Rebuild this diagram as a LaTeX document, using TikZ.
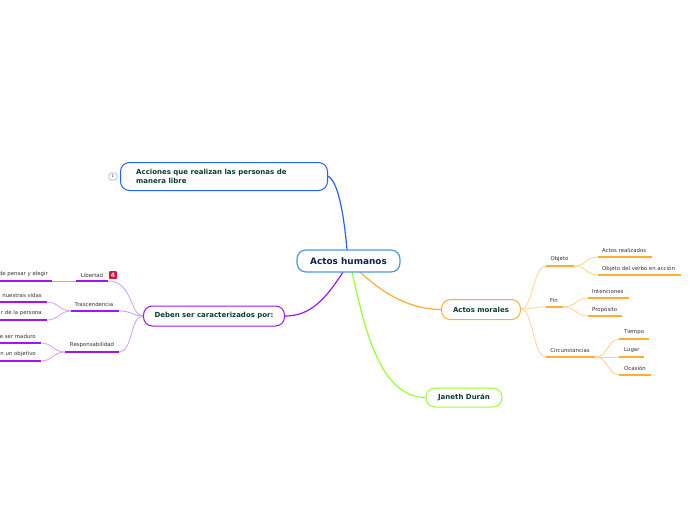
\documentclass[tikz,border=0pt]{standalone}
\usepackage{fontspec}
\setmainfont{DejaVu Sans}
\definecolor{cblue}{HTML}{2463F5}
\definecolor{cpurple}{HTML}{A214F2}
\definecolor{lpurple}{HTML}{D39AF5}
\definecolor{corange}{HTML}{FFAD33}
\definecolor{lorange}{HTML}{FFD08F}
\definecolor{cgreen}{HTML}{99FF33}
\definecolor{rootb}{HTML}{4A9BDC}
\definecolor{dtxt}{HTML}{0B3D33}
\definecolor{rtxt}{HTML}{0F2350}
\definecolor{stxt}{HTML}{333333}
\definecolor{iconred}{HTML}{C8203C}
\tikzset{
 x=1pt,y=-1pt,
 topic/.style={draw,fill=white,rounded corners=9pt,line width=1pt,inner sep=0pt,text=dtxt,font=\fontsize{7}{8.5}\selectfont\bfseries},
 lab/.style={inner sep=0pt,yshift=-0.5pt,text=stxt,font=\fontsize{5.4}{6}\selectfont},
 pline/.style={cpurple,line width=1.2pt},
 oline/.style={corange,line width=1.2pt},
 plink/.style={lpurple,line width=.8pt},
 olink/.style={lorange,line width=.8pt},
}
\begin{document}
\begin{tikzpicture}
\useasboundingbox (0,0) rectangle (696,520);
\coordinate (rt) at (347,250);
\coordinate (rl) at (343,272);
\coordinate (rb) at (352,272);
\coordinate (ro) at (360,272);
\node[topic,draw=cblue,minimum width=207pt,minimum height=28pt] (acc) at (224,176.5) {};
\node[inner sep=0pt,anchor=west,align=left,text=dtxt,font=\fontsize{7}{8.5}\selectfont\bfseries] (acct) at (136,176.5) {Acciones que realizan las personas de\\manera libre};
\node[topic,draw=cpurple,minimum width=141pt,minimum height=20pt] (deb) at (214,316) {Deben ser caracterizados por:};
\node[topic,draw=corange,minimum width=79pt,minimum height=20pt] (mor) at (481,309.5) {Actos morales};
\node[topic,draw=cgreen,minimum width=76pt,minimum height=19pt] (jan) at (464,397.5) {Janeth Durán};
\draw[cblue,line width=1.2pt] (rt) .. controls (344,215) and (338,180) .. (327.5,176);
\draw[cpurple,line width=1.2pt] (rl) .. controls (325,300) and (310,316) .. (deb.east);
\draw[corange,line width=1.2pt] (ro) .. controls (385,295) and (410,309) .. (mor.west);
\draw[cgreen,line width=1.2pt] (rb) .. controls (365,330) and (380,397) .. (jan.west);
\node[draw=rootb,fill=white,rounded corners=9pt,line width=1.2pt,minimum width=103pt,minimum height=22pt,inner sep=0pt,text=rtxt,font=\fontsize{8.9}{10}\selectfont\bfseries] (root) at (348.5,261) {Actos humanos};
\node[draw=cblue!50,fill=white,rounded corners=1.5pt,line width=.6pt,minimum width=8pt,minimum height=7pt,inner sep=0pt,text=stxt,font=\fontsize{4}{4}\selectfont] (cnt) at (113,176.5) {1};
\node[lab,anchor=east] (l1) at (48,274) {de pensar y elegir};
\node[lab] (lib) at (92,275) {Libertad};
\node[lab] (tra) at (94,304) {Trascendencia};
\node[lab] (res) at (92,345) {Responsabilidad};
\node[lab,anchor=east] (l2) at (42,295) {nuestras vidas};
\node[lab,anchor=east] (l3) at (42,313) {r de la persona};
\node[lab,anchor=east] (l4) at (36,336) {e ser maduro};
\node[lab,anchor=east] (l5) at (36,354) {n un objetivo};
\coordinate (dl) at (143,316);
\coordinate (e1) at (108,281);
\coordinate (e2) at (119,311);
\coordinate (e3) at (119,352);
\draw[plink] (dl) .. controls (130,316) and (133,281) .. (e1);
\draw[plink] (dl) .. controls (133,316) and (132,311) .. (e2);
\draw[plink] (dl) .. controls (130,316) and (133,352) .. (e3);
\draw[pline] (76,281) -- (e1);
\draw[pline] (71,311) -- (e2);
\draw[pline] (65,352) -- (e3);
\draw[plink] (76,281) -- (52,281);
\draw[pline] (0,281) -- (52,281);
\draw[plink] (71,311) .. controls (60,311) and (58,302) .. (47,302);
\draw[plink] (71,311) .. controls (60,311) and (58,320) .. (47,320);
\draw[pline] (0,302) -- (47,302);
\draw[pline] (0,320) -- (47,320);
\draw[plink] (65,352) .. controls (54,352) and (52,343) .. (41,343);
\draw[plink] (65,352) .. controls (54,352) and (52,361) .. (41,361);
\draw[pline] (0,343) -- (41,343);
\draw[pline] (0,361) -- (41,361);
\node[fill=iconred,rounded corners=1pt,minimum size=8pt,inner sep=0pt,text=white,font=\fontsize{6}{6}\selectfont\bfseries] (ico) at (113,275) {4};
\node[lab] (obj) at (559.5,259) {Objeto};
\node[lab] (fin) at (554,300) {Fin};
\node[lab] (cir) at (570,350) {Circunstancias};
\node[lab,anchor=west] (o1) at (602,250) {Actos realizados};
\node[lab,anchor=west] (o2) at (602,268) {Objeto del verbo en acción};
\node[lab,anchor=west] (f1) at (592,291) {Intenciones};
\node[lab,anchor=west] (f2) at (592,309) {Propósito};
\node[lab,anchor=west] (c1) at (624,332) {Tiempo};
\node[lab,anchor=west] (c2) at (624,350) {Lugar};
\node[lab,anchor=west] (c3) at (624,368) {Ocasión};
\coordinate (mr) at (521,309);
\draw[olink] (mr) .. controls (533,309) and (533,266) .. (546,266);
\draw[olink] (mr) .. controls (533,309) and (533,307) .. (546,307);
\draw[olink] (mr) .. controls (533,309) and (533,357) .. (546,357);
\draw[oline] (546,266) -- (574,266);
\draw[oline] (546,307) -- (563,307);
\draw[oline] (546,357) -- (595,357);
\draw[olink] (574,266) .. controls (586,266) and (586,257) .. (598,257);
\draw[olink] (574,266) .. controls (586,266) and (586,275) .. (598,275);
\draw[oline] (598,257) -- (652,257);
\draw[oline] (598,275) -- (681,275);
\draw[olink] (563,307) .. controls (576,307) and (576,298) .. (588,298);
\draw[olink] (563,307) .. controls (576,307) and (576,316) .. (588,316);
\draw[oline] (588,298) -- (629,298);
\draw[oline] (588,316) -- (622,316);
\draw[olink] (595,357) .. controls (608,357) and (608,339) .. (619,339);
\draw[olink] (595,357) -- (619,357);
\draw[olink] (595,357) .. controls (608,357) and (608,375) .. (619,375);
\draw[oline] (619,339) -- (649,339);
\draw[oline] (619,357) -- (644,357);
\draw[oline] (619,375) -- (651,375);
\end{tikzpicture}
\end{document}
